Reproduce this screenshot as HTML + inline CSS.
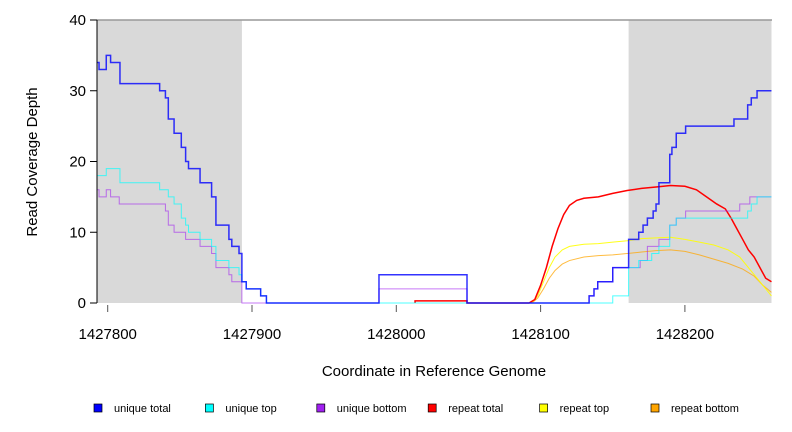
<!DOCTYPE html>
<html><head><meta charset="utf-8"><style>
body{margin:0;background:#fff;}
svg{display:block;font-family:"Liberation Sans",Arial,sans-serif;}
</style></head><body>
<svg id="chart" width="792" height="432" viewBox="0 0 792 432"></svg>
<script>
const xTicks=[1427800,1427900,1428000,1428100,1428200];
const yTicks=[0,10,20,30,40];
const shadedRegions=[[1427792.6,1427893],[1428161,1428260]];
const uniqueTotalPos=[1427792.6,1427794,1427799,1427802,1427808.5,1427836,1427840,1427842,1427846,1427851,1427854,1427856,1427864,1427872,1427875,1427884,1427886,1427891,1427893,1427896,1427906,1427910,1427988,1428049,1428133.6,1428137,1428139.6,1428150,1428161,1428168,1428171,1428174,1428178,1428180,1428182,1428189.5,1428191,1428194,1428200.5,1428234,1428243.5,1428246,1428250,1428260];
const uniqueTotalVal=[34,33,35,34,31,30,29,26,24,22,20,19,17,15,11,9,8,7,3,2,1,0,4,0,1,2,3,5,9,10,11,12,13,14,17,21,22,24,25,26,28,29,30,30];
const uniqueTopPos=[1427792.6,1427799,1427808.5,1427836,1427842,1427846,1427851,1427854,1427856,1427864,1427872,1427875,1427884,1427891,1427893,1427896,1427906,1427910,1428150,1428161,1428168,1428177,1428182,1428189.5,1428194,1428243.5,1428246,1428250,1428260];
const uniqueTopVal=[18,19,17,16,15,14,12,11,10,9,8,6,5,4,3,2,1,0,1,5,6,7,8,11,12,13,14,15,15];
const uniqueBottomPos=[1427792.6,1427794,1427799,1427802,1427808,1427840,1427842,1427846,1427854,1427864,1427872,1427875,1427884,1427886,1427893,1427988,1428049,1428133.6,1428137,1428139.6,1428150,1428169,1428174,1428182,1428189.5,1428194,1428200.5,1428238,1428245,1428260];
const uniqueBottomVal=[16,15,16,15,14,13,11,10,9,8,7,5,4,3,0,2,0,1,2,3,5,6,8,9,11,12,13,14,15,15];
const repeatTotalPos=[1428013,1428013,1428049,1428049,1428092,1428096,1428100,1428104,1428108,1428112,1428116,1428120,1428125,1428130,1428140,1428150,1428160,1428170,1428180,1428190,1428200,1428208,1428215,1428222,1428228,1428232,1428236,1428240,1428244,1428248,1428252,1428256,1428260];
const repeatTotalVal=[0,0.3,0.3,0,0,0.5,2.5,5,8,10.5,12.5,13.8,14.5,14.8,15,15.5,15.9,16.2,16.4,16.6,16.5,16,15,14,13.3,12,10.5,9,7.5,6.5,5,3.5,3];
const repeatTopPos=[1428094,1428098,1428102,1428106,1428110,1428115,1428120,1428130,1428140,1428150,1428160,1428170,1428180,1428190,1428200,1428210,1428220,1428230,1428238,1428244,1428250,1428256,1428260];
const repeatTopVal=[0,1,3,5,6.5,7.5,8,8.3,8.4,8.6,8.8,9.1,9.2,9.3,9,8.6,8.2,7.5,6.5,5,3.5,2,1];
const repeatBottomPos=[1428094,1428098,1428102,1428106,1428110,1428115,1428120,1428130,1428140,1428150,1428160,1428170,1428180,1428190,1428200,1428210,1428220,1428230,1428240,1428248,1428254,1428260];
const repeatBottomVal=[0,0.7,2,3.5,4.6,5.5,6,6.5,6.7,6.8,7,7.2,7.4,7.5,7.3,6.8,6.2,5.6,4.8,3.8,2.5,1.5];
const legendLabels=["unique total","unique top","unique bottom","repeat total","repeat top","repeat bottom"];
const legendColors=["#0000ff","#00ffff","#a020f0","#ff0000","#ffff00","#ffa500"];

const NS="http://www.w3.org/2000/svg";
const svg=document.getElementById('chart');
const L=97,R=772,T=20,B=303;
const xS=c=>107.7+(c-1427800)*1.443;
const yS=v=>B-(v/40)*(B-T);
function mk(tag,attrs,parent){const e=document.createElementNS(NS,tag);for(const k in attrs)e.setAttribute(k,attrs[k]);(parent||svg).appendChild(e);return e;}

shadedRegions.forEach(r=>{
  const e=mk('rect',{x:xS(r[0]),y:T,width:xS(r[1])-xS(r[0]),height:B-T,fill:'#d9d9d9'});
  
  
});
const topBorder=mk('line',{x1:L,x2:R,y1:T,y2:T,stroke:'#999','stroke-width':1.5});



function stepPath(pos,val){
  let d='M'+xS(pos[0])+','+yS(val[0]);
  for(let i=1;i<pos.length;i++){d+=' H'+xS(pos[i])+' V'+yS(val[i]);}
  return d;
}
function linePath(pos,val){
  let d='M'+xS(pos[0])+','+yS(val[0]);
  for(let i=1;i<pos.length;i++){d+=' L'+xS(pos[i])+','+yS(val[i]);}
  return d;
}
function series(d,color,w,op,name){
  const p=mk('path',{d:d,fill:'none',stroke:color,'stroke-width':w,'stroke-opacity':op});
  
  
}
series(linePath(repeatBottomPos,repeatBottomVal),'#ffa500',1,0.75,'repeat-bottom-line');
series(linePath(repeatTopPos,repeatTopVal),'#ffff00',1,0.9,'repeat-top-line');
series(linePath(repeatTotalPos,repeatTotalVal),'#ff0000',1.5,1,'repeat-total-line');
series(stepPath(uniqueBottomPos,uniqueBottomVal),'#a020f0',1,0.6,'unique-bottom-line');
series(stepPath(uniqueTopPos,uniqueTopVal),'#00ffff',1,0.7,'unique-top-line');
series(stepPath(uniqueTotalPos,uniqueTotalVal),'#0000ff',1.5,0.8,'unique-total-line');

const ya=mk('line',{x1:L,x2:L,y1:T,y2:B,stroke:'#000'});


yTicks.forEach(v=>{
  const t=mk('line',{x1:L-7,x2:L,y1:yS(v),y2:yS(v),stroke:'#000'});
  
  
  const tx=mk('text',{x:L-11,y:yS(v)+5,'text-anchor':'end','font-size':15});
  tx.textContent=v;
  
  
});
xTicks.forEach(c=>{
  const t=mk('line',{x1:xS(c),x2:xS(c),y1:B+2,y2:B+9,stroke:'#555'});
  
  
  const tx=mk('text',{x:xS(c),y:B+36,'text-anchor':'middle','font-size':15});
  tx.textContent=c;
  
  
});
const xt=mk('text',{x:434,y:376,'text-anchor':'middle','font-size':15});
xt.textContent='Coordinate in Reference Genome';


const yt=mk('text',{x:0,y:0,'text-anchor':'middle','font-size':15,transform:'translate(37,162) rotate(-90)'});
yt.textContent='Read Coverage Depth';



legendLabels.forEach((lab,i)=>{
  const x=94+i*111.4;
  const g=mk('g',{});
  
  
  mk('rect',{x:x,y:404,width:8,height:8,fill:legendColors[i],stroke:'#000','stroke-width':0.7},g);
  const t=mk('text',{x:x+20,y:412,'font-size':11},g);
  t.textContent=lab;
});
</script>
</body></html>
